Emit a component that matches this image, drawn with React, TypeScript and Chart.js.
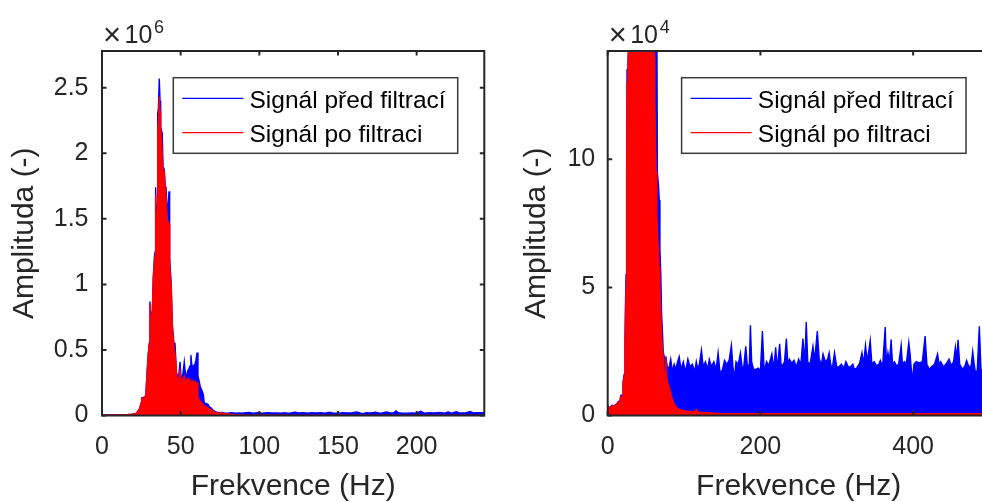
import React, { useEffect, useRef } from "react";
import { Chart, registerables } from "chart.js";

Chart.register(...registerables);

const FONT = '"Liberation Sans", Arial, Helvetica, sans-serif';
const AXIS_COLOR = "#262626";

// Amplitudes are in units of 1e4 (the right panel's ×10^4 scale).
// Low-frequency region (0–25 Hz)
const lowFreq = [0, 1, 2.5, 4.5, 6, 8, 10, 12, 14, 16, 17, 19, 20, 21.5, 22.6, 23.3, 24.0, 24.8, 25.3];
const lowBefore = [0.25, 0.35, 0.3, 0.36, 0.4, 0.36, 0.42, 0.46, 0.55, 0.52, 0.78, 0.8, 1.3, 1.6, 2.9, 4.3, 5.5, 9.5, 13.5];
const lowAfter = [0.22, 0.33, 0.3, 0.33, 0.39, 0.35, 0.4, 0.43, 0.52, 0.5, 0.72, 0.74, 1.24, 1.5, 2.8, 4.0, 5.0, 9.3, 13];

// Main peak (25–92 Hz)
const peakFreq = [
  26.5, 27.8, 28.6, 29.4, 30.0, 30.5, 31.0, 31.5, 32.0, 32.6,
  33.3, 33.8, 34.1, 34.5, 34.8, 35.1, 35.4, 35.9, 36.4, 36.9,
  37.3, 38.3, 38.9, 39.6, 40.2, 40.7, 41.5, 42.0, 42.6, 43.0,
  44.0, 44.7, 45.7, 46.4, 47.0, 47.4, 48.0, 48.5, 49.6, 50.6,
  51.5, 52.3, 53.0, 53.7, 54.5, 55.3, 56.0, 56.5, 57.2, 58.0,
  59.0, 59.7, 60.4, 61.0, 61.8, 62.5, 63.5, 64.4, 65.0, 66.5,
  67.5, 68.4, 69.6, 70.5, 71.8, 72.7, 74.0, 75.5, 76.2, 77.0,
  78.5, 80.5, 82.5, 84.9, 87.0, 89.0, 91.5,
];
const peakBefore = [
  13.8, 15, 32, 47, 55, 87, 60, 78, 80, 106,
  121, 125, 174, 150, 139, 160, 230, 235, 257, 240,
  220, 215, 185, 187, 175, 174, 152, 160, 171, 120,
  100, 70, 55, 55, 41, 25, 30, 27, 41, 23,
  33, 41, 32, 30, 34, 36, 38, 46, 37, 38,
  39, 42, 48, 30, 26, 22, 19, 16, 9.5, 9,
  8.4, 6.5, 5.5, 4.0, 3.2, 2.5, 2.3, 2.0, 2.3, 2.1,
  1.8, 1.9, 2.2, 1.7, 2.0, 1.8, 2.1,
];
const peakAfter = [
  13.5, 14.6, 31, 46, 54, 85, 58, 76, 78, 104,
  118, 122, 168, 145, 130, 155, 218, 225, 243, 232,
  218, 200, 180, 185, 172, 168, 150, 148, 146, 115,
  98, 68, 53, 47, 40, 23, 28, 26, 34, 22,
  28, 30, 27, 26, 28, 28, 25, 24, 27, 25,
  26, 25, 25, 14, 12.3, 11, 9.5, 8.0, 7.2, 6.5,
  5.8, 5.0, 4.0, 3.2, 2.6, 2.3, 1.7, 1.6, 2.3, 1.5,
  1.3, 1.1, 0.9, 0.6, 0.45, 0.35, 0.27,
];

// Noise floor (92–500 Hz)
const noiseFreq = [
  93.6, 96, 99, 102, 105, 108, 111, 114, 116, 118,
  120, 122.8, 125, 128, 131, 133, 136, 139, 142, 144.6,
  147, 150, 153, 156, 159, 162, 164, 166, 168, 171,
  173.8, 176, 177.5, 180.8, 183, 185.5, 186.9, 188.5, 191, 194,
  197, 200, 202.6, 205, 208, 211, 215, 217.5, 220, 222,
  225.2, 227, 229, 231.5, 234, 236, 238, 241, 244, 247,
  250, 253, 255.7, 258, 260, 262, 265, 268.8, 271, 274.5,
  277, 280, 282, 285, 288, 290, 292, 294, 297, 300,
  303, 306, 309, 312, 315, 318, 321, 323, 326, 330,
  333, 335, 337.6, 340, 343.8, 346, 349, 352, 355, 357,
  360, 363.4, 365, 367, 369, 371.2, 373, 375.5, 378, 381,
  384.3, 386, 388.5, 391, 394.3, 396, 399, 401, 404, 408,
  412, 415.7, 418, 421, 424, 428, 432, 434, 436, 440,
  444, 447, 450, 453, 455.3, 457, 458.8, 461, 465, 468,
  470, 473, 476, 478, 480, 482, 484, 486.7, 489, 492,
  496, 500,
];
const noiseBefore = [
  2.3, 1.8, 2.1, 1.7, 2.2, 1.9, 2.0, 1.7, 2.1, 1.8,
  2.0, 2.55, 1.9, 2.1, 1.8, 2.2, 1.9, 2.1, 1.8, 2.45,
  1.7, 1.75, 2.15, 2.0, 2.15, 2.74, 1.9, 1.45, 2.1, 2.0,
  2.44, 1.9, 1.7, 2.7, 1.9, 2.0, 3.52, 2.1, 1.8, 1.8,
  1.85, 1.75, 3.3, 1.7, 2.1, 1.95, 2.4, 1.8, 2.66, 1.8,
  2.8, 2.0, 1.95, 2.1, 3.0, 2.0, 2.2, 2.05, 2.15, 1.9,
  2.2, 2.0, 3.0, 2.0, 3.65, 2.1, 2.0, 2.7, 2.15, 3.3,
  2.2, 2.0, 2.4, 2.1, 2.2, 2.45, 2.0, 1.8, 2.45, 1.9,
  1.9, 2.0, 1.85, 2.1, 1.9, 1.9, 2.0, 1.8, 1.85, 2.05,
  2.45, 2.0, 2.74, 2.1, 2.93, 2.0, 2.1, 1.95, 2.0, 2.15,
  1.9, 3.45, 2.0, 2.45, 2.1, 2.97, 2.0, 2.1, 1.95, 2.0,
  2.74, 2.0, 2.1, 2.0, 2.85, 2.4, 1.3, 2.0, 2.1, 2.05,
  2.1, 3.1, 2.0, 1.8, 1.9, 2.0, 2.4, 2.0, 2.1, 1.9,
  2.05, 2.2, 1.95, 2.1, 2.66, 2.2, 2.96, 2.0, 1.8, 1.95,
  2.15, 1.9, 1.95, 2.5, 2.0, 1.6, 1.8, 3.48, 1.65, 1.9,
  1.8, 1.7,
];
const noiseAfter = [
  0.25, 0.22, 0.2, 0.18, 0.17, 0.16, 0.15, 0.14, 0.23, 0.13,
  0.13, 0.12, 0.12, 0.11, 0.11, 0.1, 0.1, 0.09, 0.09, 0.08,
  0.08, 0.07, 0.07, 0.07, 0.07, 0.07, 0.07, 0.07, 0.07, 0.07,
  0.07, 0.07, 0.07, 0.07, 0.07, 0.07, 0.07, 0.07, 0.07, 0.07,
  0.07, 0.07, 0.07, 0.07, 0.07, 0.07, 0.07, 0.07, 0.07, 0.07,
  0.07, 0.07, 0.07, 0.07, 0.07, 0.07, 0.07, 0.07, 0.07, 0.07,
  0.07, 0.07, 0.07, 0.07, 0.07, 0.07, 0.07, 0.07, 0.07, 0.07,
  0.07, 0.07, 0.07, 0.07, 0.07, 0.07, 0.07, 0.07, 0.07, 0.07,
  0.07, 0.07, 0.07, 0.07, 0.07, 0.07, 0.07, 0.07, 0.07, 0.07,
  0.07, 0.07, 0.07, 0.07, 0.07, 0.07, 0.07, 0.07, 0.07, 0.07,
  0.07, 0.07, 0.07, 0.07, 0.07, 0.07, 0.07, 0.07, 0.07, 0.07,
  0.07, 0.07, 0.07, 0.07, 0.07, 0.07, 0.07, 0.07, 0.07, 0.07,
  0.07, 0.07, 0.07, 0.07, 0.07, 0.07, 0.07, 0.07, 0.07, 0.07,
  0.07, 0.07, 0.07, 0.07, 0.07, 0.07, 0.07, 0.07, 0.07, 0.07,
  0.07, 0.07, 0.07, 0.07, 0.07, 0.07, 0.07, 0.07, 0.07, 0.07,
  0.07, 0.07,
];

const seriesLabels = ["Signál před filtrací", "Signál po filtraci"];
const seriesColors = ["#0000ff", "#ff0000"];

const leftXTicks = [0, 50, 100, 150, 200];
const leftYTicks = [0, 50, 100, 150, 200, 250]; // shown as ×10^6
const rightXTicks = [0, 200, 400];
const rightYTicks = [0, 5, 10]; // shown as ×10^4

const freqHz = [...lowFreq, ...peakFreq, ...noiseFreq];
const beforeAmp = [...lowBefore, ...peakBefore, ...noiseBefore];
const afterAmp = [...lowAfter, ...peakAfter, ...noiseAfter];

type PanelCfg = {
  width: number;
  xMax: number;
  yMax: number;
  xTicks: number[];
  yTicks: number[];
  yDiv: number;
  exponent: string;
  yWidth: number;
  padRight: number;
  yTitlePad: number;
  yTickPad: number;
  legendGap: number;
};

function makeAxesPlugin(cfg: PanelCfg) {
  return {
    id: "matlabAxes",
    afterDraw(chart: any) {
      const { ctx, chartArea: a, scales } = chart;
      ctx.save();
      // frame
      ctx.strokeStyle = AXIS_COLOR;
      ctx.lineWidth = 2;
      ctx.strokeRect(a.left, a.top, a.right - a.left, a.bottom - a.top);
      // inward ticks
      const tl = 4.5;
      ctx.beginPath();
      for (const t of scales.x.ticks) {
        const px = scales.x.getPixelForValue(t.value);
        ctx.moveTo(px, a.bottom);
        ctx.lineTo(px, a.bottom - tl);
        ctx.moveTo(px, a.top);
        ctx.lineTo(px, a.top + tl);
      }
      for (const t of scales.y.ticks) {
        const py = scales.y.getPixelForValue(t.value);
        ctx.moveTo(a.left, py);
        ctx.lineTo(a.left + tl, py);
        ctx.moveTo(a.right, py);
        ctx.lineTo(a.right - tl, py);
      }
      ctx.stroke();

      // exponent label
      ctx.fillStyle = AXIS_COLOR;
      ctx.textBaseline = "alphabetic";
      ctx.textAlign = "left";
      ctx.font = `31px ${FONT}`;
      ctx.fillText("\u00d7", a.left + 1, 45);
      ctx.font = `25px ${FONT}`;
      ctx.fillText("10", a.left + 22.5, 43.3);
      ctx.font = `18px ${FONT}`;
      ctx.fillText(cfg.exponent, a.left + 52, 33.3);

      // legend
      const bw = 284.4;
      const bh = 75.6;
      const bx = a.right - cfg.legendGap - bw;
      const by = a.top + 26.7;
      ctx.fillStyle = "#ffffff";
      ctx.fillRect(bx, by, bw, bh);
      ctx.strokeStyle = "#3a3a3a";
      ctx.lineWidth = 1.5;
      ctx.strokeRect(bx, by, bw, bh);
      const rows = [20.6, 55];
      const bases = [30.6, 64.6];
      chart.data.datasets.forEach((ds: any, i: number) => {
        ctx.strokeStyle = ds.borderColor;
        ctx.lineWidth = 1.3;
        ctx.beginPath();
        ctx.moveTo(bx + 9, by + rows[i]);
        ctx.lineTo(bx + 70, by + rows[i]);
        ctx.stroke();
        ctx.fillStyle = "#000000";
        ctx.font = `24.5px ${FONT}`;
        ctx.fillText(ds.label, bx + 76.2, by + bases[i]);
      });
      ctx.restore();
    },
  };
}

function buildConfig(cfg: PanelCfg): any {
  const pts = (ys: number[]) => freqHz.map((x, i) => ({ x, y: ys[i] }));
  const values = [beforeAmp, afterAmp];
  const datasets = seriesLabels.map((label, i) => ({
    label,
    data: pts(values[i]),
    borderColor: seriesColors[i],
    backgroundColor: seriesColors[i],
    fill: "origin",
    borderWidth: 1.4,
    pointRadius: 0,
    tension: 0,
    order: i === 0 ? 1 : 0,
  }));
  return {
    type: "line",
    data: { datasets },
    plugins: [makeAxesPlugin(cfg)],
    options: {
      animation: false,
      responsive: false,
      maintainAspectRatio: false,
      events: [],
      layout: { padding: { top: 51, right: cfg.padRight, bottom: 0, left: 0 } },
      plugins: {
        legend: { display: false },
        tooltip: { enabled: false },
        title: { display: false },
      },
      scales: {
        x: {
          type: "linear",
          min: 0,
          max: cfg.xMax,
          afterBuildTicks: (s: any) => {
            s.ticks = cfg.xTicks.map((v) => ({ value: v }));
          },
          afterFit: (s: any) => {
            s.height = 86.5;
          },
          grid: { display: false, drawTicks: false },
          border: { display: false },
          ticks: {
            padding: 16.3,
            color: AXIS_COLOR,
            font: { family: FONT, size: 25 },
            maxRotation: 0,
            autoSkip: false,
            callback: (v: number) => String(v),
          },
          title: {
            display: true,
            text: "Frekvence (Hz)",
            color: AXIS_COLOR,
            font: { family: FONT, size: 30, lineHeight: 1 },
            padding: { top: 0, bottom: 0.7 },
          },
        },
        y: {
          type: "linear",
          min: 0,
          max: cfg.yMax,
          afterBuildTicks: (s: any) => {
            s.ticks = cfg.yTicks.map((v) => ({ value: v }));
          },
          afterFit: (s: any) => {
            s.width = cfg.yWidth;
          },
          grid: { display: false, drawTicks: false },
          border: { display: false },
          ticks: {
            padding: cfg.yTickPad,
            color: AXIS_COLOR,
            font: { family: FONT, size: 25 },
            autoSkip: false,
            callback: (v: number) => String(Math.round((v / cfg.yDiv) * 100) / 100),
          },
          title: {
            display: true,
            text: "Amplituda (-)",
            color: AXIS_COLOR,
            font: { family: FONT, size: 30, lineHeight: 1 },
            padding: { top: cfg.yTitlePad, bottom: 0 },
          },
        },
      },
    },
  };
}

const leftPanel: PanelCfg = {
  width: 491,
  xMax: 243,
  yMax: 278,
  xTicks: leftXTicks,
  yTicks: leftYTicks,
  yDiv: 100,
  exponent: "6",
  yWidth: 102,
  padRight: 6.7,
  yTitlePad: 9.4,
  yTickPad: 13.5,
  legendGap: 26.6,
};

const rightPanel: PanelCfg = {
  width: 500,
  xMax: 500,
  yMax: 14.23,
  xTicks: rightXTicks,
  yTicks: rightYTicks,
  yDiv: 1,
  exponent: "4",
  yWidth: 116.7,
  padRight: 1.5,
  yTitlePad: 31.1,
  yTickPad: 12.5,
  legendGap: 23.5,
};

function Panel({ cfg, left }: { cfg: PanelCfg; left: number }) {
  const ref = useRef<HTMLCanvasElement>(null);
  useEffect(() => {
    const chart = new Chart(ref.current as HTMLCanvasElement, buildConfig(cfg));
    return () => chart.destroy();
  }, [cfg]);
  return (
    <canvas
      ref={ref}
      width={cfg.width}
      height={502}
      style={{ position: "absolute", left, top: 0, width: cfg.width, height: 502 }}
    />
  );
}

export default function App() {
  return (
    <div
      style={{
        position: "fixed",
        left: 0,
        top: 0,
        width: 982,
        height: 502,
        overflow: "hidden",
        background: "#ffffff",
      }}
    >
      <Panel cfg={leftPanel} left={0} />
      <Panel cfg={rightPanel} left={491} />
    </div>
  );
}
